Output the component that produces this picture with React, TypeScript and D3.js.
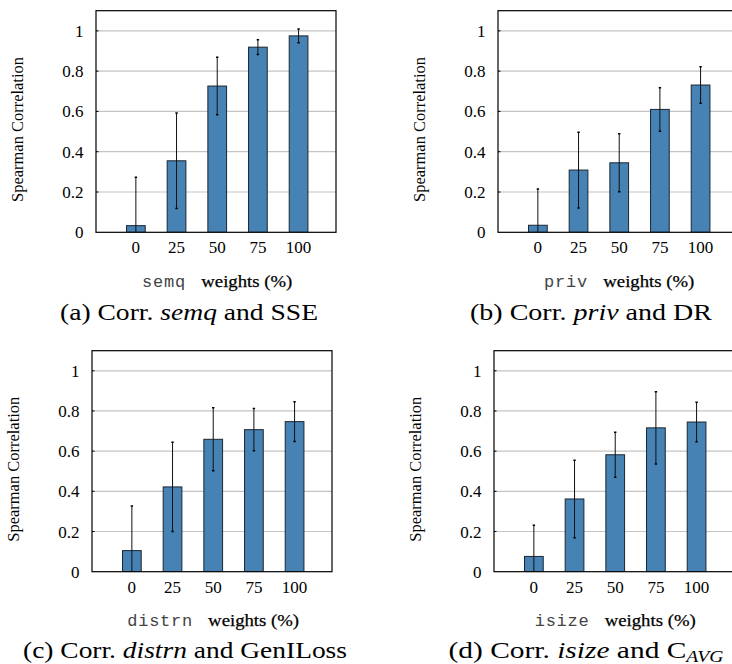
import React from "react";
import * as d3 from "d3";

const categories = ["0", "25", "50", "75", "100"];
const yTicks = [0, 0.2, 0.4, 0.6, 0.8, 1];

// mean spearman correlation and std dev per weight setting
const semqMean = [0.033, 0.355, 0.726, 0.919, 0.975];
const semqErr = [0.24, 0.237, 0.143, 0.037, 0.034];
const privMean = [0.035, 0.309, 0.345, 0.61, 0.731];
const privErr = [0.18, 0.188, 0.144, 0.108, 0.091];
const distrnMean = [0.105, 0.422, 0.659, 0.707, 0.747];
const distrnErr = [0.222, 0.222, 0.157, 0.105, 0.099];
const isizeMean = [0.076, 0.362, 0.582, 0.716, 0.745];
const isizeErr = [0.155, 0.193, 0.112, 0.18, 0.098];

const panels = [
  {
    id: "a", left: 96, top: 10.7, bottom: 232.3, metric: "semq", mean: semqMean, err: semqErr,
    caption: [{ t: "(a) Corr. " }, { t: "semq", i: true }, { t: " and SSE" }],
    capX: 189, capY: 320, capLen: 258,
  },
  {
    id: "b", left: 498, top: 10.7, bottom: 232.3, metric: "priv", mean: privMean, err: privErr,
    caption: [{ t: "(b) Corr. " }, { t: "priv", i: true }, { t: " and DR" }],
    capX: 591, capY: 320, capLen: 242,
  },
  {
    id: "c", left: 92, top: 350.7, bottom: 571.7, metric: "distrn", mean: distrnMean, err: distrnErr,
    caption: [{ t: "(c) Corr. " }, { t: "distrn", i: true }, { t: " and GenILoss" }],
    capX: 185, capY: 657.5, capLen: 324,
  },
  {
    id: "d", left: 494, top: 350.7, bottom: 571.7, metric: "isize", mean: isizeMean, err: isizeErr,
    caption: [{ t: "(d) Corr. " }, { t: "isize", i: true }, { t: " and C" }, { t: "AVG", i: true, sub: true }],
    capX: 586, capY: 657.5, capLen: 275,
  },
];

const SERIF = "Liberation Serif";
const MONO = "Liberation Mono";
const plotW = 240;

function Panel({ p }) {
  const x = d3.scaleLinear().domain([-0.98, 4.92]).range([p.left, p.left + plotW]);
  const y = d3.scaleLinear().domain([0, 1.1]).range([p.bottom, p.top]);
  const barW = x(0.23) - x(-0.23);
  const cy = (p.top + p.bottom) / 2 + 8;
  const monoW = p.metric.length * 10.8;
  const wordW = 91;
  const gap = 16;
  const startX = x(2) - (monoW + gap + wordW) / 2;
  const fmt = d3.format(".1f");

  return (
    <g>
      <clipPath id={"clip-" + p.id}>
        <rect x={p.left} y={p.top} width={plotW} height={p.bottom - p.top} />
      </clipPath>
      {yTicks.slice(1).map(t => (
        <g key={t}>
          <line x1={p.left} x2={p.left + plotW} y1={y(t)} y2={y(t)} stroke="#c4c4c4" strokeWidth={1.2} />
          <line x1={p.left} x2={p.left + 2.5} y1={y(t)} y2={y(t)} stroke="#000" strokeWidth={1} />
        </g>
      ))}
      <g clipPath={`url(#clip-${p.id})`}>
        {p.mean.map((d, i) => (
          <rect key={"b" + i} x={x(i) - barW / 2} y={y(d)} width={barW} height={y(0) - y(d)}
            fill="#4682b4" stroke="#1c2631" strokeWidth={1} />
        ))}
        {p.mean.map((d, i) => (
          <g key={"e" + i}>
            <line x1={x(i)} x2={x(i)} y1={y(d + p.err[i])} y2={y(d - p.err[i])} stroke="#111" strokeWidth={1} />
            <line x1={x(i) - 1.2} x2={x(i) + 1.2} y1={y(d + p.err[i])} y2={y(d + p.err[i])} stroke="#000" strokeWidth={1.5} />
            <line x1={x(i) - 1.2} x2={x(i) + 1.2} y1={y(d - p.err[i])} y2={y(d - p.err[i])} stroke="#000" strokeWidth={1.5} />
          </g>
        ))}
      </g>
      <rect x={p.left} y={p.top} width={plotW} height={p.bottom - p.top} fill="none" stroke="#000" strokeWidth={1.2} />
      {yTicks.map(t => (
        <text key={"yl" + t} x={p.left - 12.5} y={y(t) + 6} textAnchor="end" fontFamily={SERIF} fontSize={17}>
          {t === 0 ? "0" : t === 1 ? "1" : fmt(t)}
        </text>
      ))}
      {categories.map((c, i) => (
        <text key={"xl" + c} x={x(i)} y={p.bottom + 21} textAnchor="middle" fontFamily={SERIF} fontSize={17}>
          {c}
        </text>
      ))}
      <text transform={`translate(${p.left - 73},${cy}) rotate(-90)`} textAnchor="middle"
        textLength={145} lengthAdjust="spacingAndGlyphs" fontFamily={SERIF} fontSize={16}>
        Spearman Correlation
      </text>
      <text x={startX} y={p.bottom + 54.5} textLength={monoW} fontFamily={MONO} fontSize={17} fill="#444">
        {p.metric}
      </text>
      <text x={startX + monoW + gap} y={p.bottom + 54.5} textLength={wordW} lengthAdjust="spacingAndGlyphs"
        fontFamily={SERIF} fontSize={17} fill="#000" stroke="#000" strokeWidth={0.25}>
        weights (%)
      </text>
      <text x={p.capX} y={p.capY} textAnchor="middle" textLength={p.capLen} lengthAdjust="spacingAndGlyphs"
        fontFamily={SERIF} fontSize={24}>
        {p.caption.map((part, k) => (
          <tspan key={k} fontStyle={part.i ? "italic" : "normal"} dy={part.sub ? 4 : undefined}
            fontSize={part.sub ? 16 : undefined}>
            {part.t}
          </tspan>
        ))}
      </text>
    </g>
  );
}

export default function App() {
  return (
    <svg width={732} height={664} style={{ position: "absolute", left: 0, top: 0, background: "#fff" }}>
      {panels.map(p => (
        <Panel key={p.id} p={p} />
      ))}
    </svg>
  );
}
